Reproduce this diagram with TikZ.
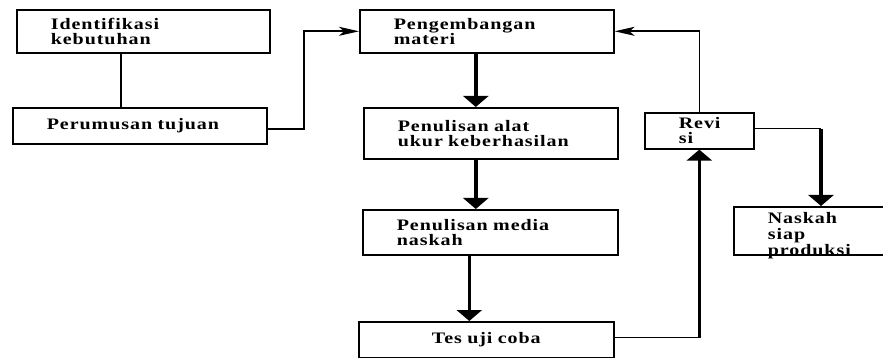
\documentclass[tikz,border=0pt]{standalone}
\usepackage{fontspec}
\setmainfont{Liberation Serif}[FakeStretch=1.25,LetterSpace=6,WordSpace=1.8]
\usetikzlibrary{arrows.meta}

\tikzset{
    box/.style={draw, line width=1.6pt, anchor=north west, inner xsep=34pt, align=left,
        font=\fontsize{16}{15}\selectfont\bfseries},
    thinline/.style={line width=1.3pt},
    bar/.style={line width=2pt},
    bigarrow/.style={line width=3.5pt, -{Triangle[width=25pt,length=11pt]}},
    smallarrow/.style={line width=1.6pt, -{Stealth[length=20pt,width=9pt,inset=5pt]}}
}

\begin{document}
\begin{tikzpicture}[x=1pt,y=-1pt]
        \useasboundingbox (0,0) rectangle (883,358);
        \clip (-5,-5) rectangle (884,363);

        \node[box, text width=185pt, minimum height=43pt] (ident) at (16,9) {Identifikasi\\kebutuhan};
        \node[box, text width=186pt, minimum height=36pt] (rumus) at (12,107) {Perumusan tujuan};
        \node[box, text width=186pt, minimum height=43pt] (kembang) at (359,9) {Pengembangan\\materi};
        \node[box, text width=186pt, minimum height=51pt] (alat) at (363,107) {Penulisan alat\\ukur keberhasilan};
        \node[box, text width=187pt, minimum height=45pt] (media) at (362,209) {Penulisan media\\naskah};
        \node[box, text width=187pt, minimum height=36pt, align=center] (tes) at (358,321) {Tes uji coba};
        \node[box, text width=41pt, minimum height=36pt] (revisi) at (644,112) {Revi\\si};
        \node[box, font=\fontsize{16}{16}\selectfont\bfseries, text width=300pt, text height=11.5pt,
            text depth=26.5pt, inner ysep=5pt] (naskah) at (733,206) {Naskah\\siap\\produksi};

        \coordinate (k1) at (304,0);
        \coordinate (k2) at (821,0);

        \draw[bar] ([xshift=-22pt]ident.south) -- ([xshift=-22pt]ident.south |- rumus.north);
        \draw[smallarrow] ([yshift=-3pt]rumus.east) -- ([yshift=-3pt]rumus.east -| k1) |- (kembang.west);

        \draw[bigarrow] ([xshift=-11pt]kembang.south) -- ([xshift=-11pt]kembang.south |- alat.north);
        \draw[bigarrow] ([xshift=-15pt]alat.south) -- ([xshift=-15pt]alat.south |- media.north);
        \draw[bigarrow] ([xshift=-21pt]media.south) -- ([xshift=-21pt]media.south |- tes.north);

        \draw[thinline] ([yshift=2pt]tes.east) -- ([yshift=2pt]tes.east -| revisi.south);
        \draw[bigarrow] ([yshift=2pt]tes.east -| revisi.south) -- (revisi.south);
        \draw[smallarrow] (revisi.north) |- (kembang.east);

        \draw[thinline] ([yshift=2pt]revisi.east) -- ([yshift=2pt]revisi.east -| k2);
        \draw[bigarrow] ([yshift=2pt]revisi.east -| k2) -- (k2 |- naskah.north);

    \end{tikzpicture}
\end{document}
